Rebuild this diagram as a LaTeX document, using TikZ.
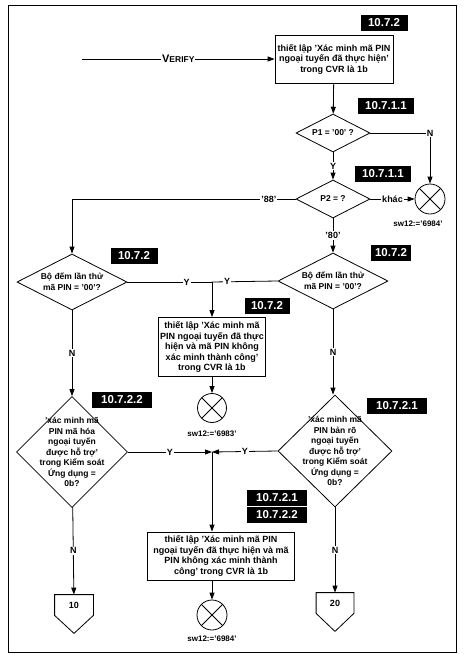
\documentclass[tikz,border=0pt]{standalone}
\usepackage{fontspec}
\setmainfont{Liberation Sans}
\usetikzlibrary{shapes.geometric, arrows.meta, positioning}

\begin{document}
\begin{tikzpicture}[x=1pt, y=-1pt, line width=0.8pt, >={Triangle[length=7pt, width=5pt]},
    box/.style={rectangle, draw, align=center, inner sep=2pt, font=\fontsize{9}{10.5}\selectfont\bfseries},
    dec/.style={diamond, draw, inner sep=0pt},
    dtxt/.style={align=center, inner sep=0pt, font=\fontsize{8.5}{10.5}\selectfont\bfseries},
    tag/.style={rectangle, fill=black, text=white, minimum height=16pt, inner sep=1pt, font=\fontsize{11.5}{12}\selectfont\bfseries},
    stopnode/.style={circle, draw, minimum size=30pt, inner sep=0pt,
        path picture={\draw (path picture bounding box.south west) -- (path picture bounding box.north east)
                             (path picture bounding box.north west) -- (path picture bounding box.south east);}},
    note/.style={font=\fontsize{8}{9}\selectfont\bfseries},
    yn/.style={fill=white, inner sep=1pt, font=\fontsize{9}{9}\selectfont\bfseries},
    offpage/.style={minimum width=38pt, minimum height=20pt, inner sep=0pt, font=\fontsize{9}{9}\selectfont\bfseries}]

    \useasboundingbox (0,0) rectangle (464,654);
    \draw (8,5) rectangle (456,652);

    % entry
    \coordinate (vin) at (82,59);
    \node[box, minimum width=118pt, minimum height=48pt] (b1) at (334,59)
        {thiết lập 'Xác minh mã PIN\\ngoại tuyến đã thực hiện'\\trong CVR là 1b};
    \draw[->] (vin) -- node[fill=white, inner sep=1pt, font=\bfseries]{\fontsize{11}{11}\selectfont V\fontsize{8.5}{9}\selectfont ERIFY} (b1.west);

    % P1 / P2
    \node[dec, minimum width=74pt, minimum height=38pt,
          label={[dtxt]center:P1 = '00' ?}] (p1) at (333,133) {};
    \node[dec, minimum width=74pt, minimum height=38pt,
          label={[dtxt]center:P2 = ?}] (p2) at (333,199) {};
    \node[stopnode] (fail1) at (430,199) {};
    \node[note, below=3pt of fail1, xshift=-12pt] {sw12:='6984'};

    % counters
    \node[dec, minimum width=110pt, minimum height=56pt,
          label={[dtxt]center:Bộ đếm lần thử\\mã PIN = '00'?}] (cnt1) at (72,282) {};
    \node[dec, minimum width=110pt, minimum height=56pt,
          label={[dtxt]center:Bộ đếm lần thử\\mã PIN = '00'?}] (cnt2) at (333,281) {};
    \coordinate (j1) at (212,282);
    \node[box, minimum width=105pt, minimum height=59pt] (b2) at (212,347)
        {thiết lập 'Xác minh mã\\PIN ngoại tuyến đã thực\\hiện và mã PIN không\\xác minh thành công'\\trong CVR là 1b};
    \node[stopnode, minimum size=29pt] (fail2) at (212,408) {};
    \node[note, below=4pt of fail2] {sw12:='6983'};

    % offline PIN support
    \node[dec, minimum width=111pt, minimum height=111pt,
          label={[dtxt]center:'xác minh mã\\PIN mã hóa\\ngoại tuyến\\được hỗ trợ'\\trong Kiểm soát\\Ứng dụng =\\0b?}] (enc) at (72,452) {};
    \node[dec, minimum width=114pt, minimum height=112pt,
          label={[dtxt]center:'xác minh mã\\PIN bản rõ\\ngoại tuyến\\được hỗ trợ'\\trong Kiểm soát\\Ứng dụng =\\0b?}] (pln) at (335,451) {};
    \coordinate (j2) at (212,452);
    \node[box, minimum width=147pt, minimum height=48pt] (b3) at (221,556)
        {thiết lập 'Xác minh mã PIN\\ngoại tuyến đã thực hiện và mã\\PIN không xác minh thành\\công' trong CVR là 1b};
    \node[stopnode] (fail3) at (212,615) {};
    \node[note, below=2pt of fail3] {sw12:='6984'};

    \node[offpage] (off10) at (74,605) {10};
    \node[offpage, minimum width=37pt] (off20) at (335,603) {20};
    \draw (off10.north west) -- (off10.north east) -- (off10.south east) -- ([yshift=-18pt]off10.south) -- (off10.south west) -- cycle;
    \draw (off20.north west) -- (off20.north east) -- (off20.south east) -- ([yshift=-18pt]off20.south) -- (off20.south west) -- cycle;

    % tags
    \node[tag, minimum width=47pt] at (384,23) {10.7.2};
    \node[tag, minimum width=56pt] at (386,106) {10.7.1.1};
    \node[tag, minimum width=56pt] at (383,174) {10.7.1.1};
    \node[tag, minimum width=47pt] at (134,256) {10.7.2};
    \node[tag, minimum width=40pt] at (391,253) {10.7.2};
    \node[tag, minimum width=45pt] at (267,306) {10.7.2};
    \node[tag, minimum width=60pt] at (122,400) {10.7.2.2};
    \node[tag, minimum width=60pt] at (397,406) {10.7.2.1};
    \node[tag, minimum width=60pt] at (277,498) {10.7.2.1};
    \node[tag, minimum width=60pt] at (277,515) {10.7.2.2};

    % connectors
    \draw[->] (b1) -- (p1);
    \draw[->] (p1.east) -| node[yn, pos=0.5]{N} (fail1.north);
    \draw[->] (p1) -- node[yn]{Y} (p2);
    \draw[->] (p2.east) -- node[yn]{khác} (fail1.west);
    \draw[->] (p2.west) -| node[yn, pos=0.06]{'88'} (cnt1.north);
    \draw[->] (p2) -- node[yn]{'80'} (cnt2);
    \draw (cnt1.east) -- node[yn, pos=0.7]{Y} (j1);
    \draw (cnt2.west) -- node[yn, pos=0.77]{Y} (j1);
    \draw[->] (j1) -- (j1 |- b2.north);
    \draw[->] (b2) -- (fail2);
    \draw[->] (cnt1) -- node[yn]{N} (enc);
    \draw[->] (cnt2.south) -- node[yn]{N} (cnt2.south |- pln.north);
    \draw[->] (enc.east) -- node[yn]{Y} (j2);
    \draw[->] (pln.west) -- node[yn]{Y} (j2);
    \draw[->] (j2) -- (j2 |- b3.north);
    \draw[->] (b3.south -| fail3) -- (fail3);
    \draw[->] (enc) -- node[yn]{N} (off10);
    \draw[->] (pln) -- node[yn]{N} (off20);
\end{tikzpicture}
\end{document}
